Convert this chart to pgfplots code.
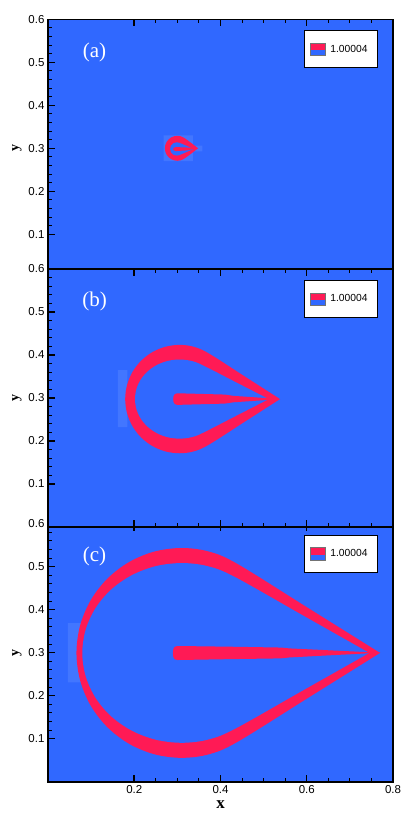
\documentclass[border=0pt]{standalone}
\usepackage{fontspec}
\setmainfont{Liberation Sans}
\newfontfamily\serif{Liberation Serif}
\usepackage{pgfplots}
\pgfplotsset{compat=1.18}
\definecolor{bgblue}{RGB}{48,104,255}
\definecolor{ringred}{RGB}{255,26,85}
\definecolor{ltblue}{RGB}{66,118,255}

\tikzset{plab/.style={font=\serif\fontsize{21bp}{24bp}\selectfont, text=white}}
\pgfplotsset{
 panel/.style={
  scale only axis, width=345bp, height=258bp,
  xmin=0, xmax=0.8, ymin=0, ymax=0.6,
  anchor=north west,
  axis background/.style={fill=bgblue},
  axis line style={line width=1.6bp, black},
  axis on top,
  tick align=inside,
  xtick={0.2,0.4,0.6,0.8}, ytick={0.1,0.2,0.3,0.4,0.5,0.6},
  minor x tick num=3, minor y tick num=4,
  major tick length=7bp, minor tick length=4bp,
  every major tick/.append style={line width=1.5bp, black},
  every minor tick/.append style={line width=0.9bp, black},
  xtick pos=both, ytick pos=left,
  tick label style={font=\fontsize{11.5bp}{13bp}\selectfont},
  /pgf/number format/assume math mode=true,
  ylabel={y},
  ylabel style={font=\serif\bfseries\fontsize{14bp}{16bp}\selectfont},
  xlabel style={font=\serif\bfseries\fontsize{17bp}{19bp}\selectfont},
  legend style={at={(axis description cs:0.9565,0.957)}, anchor=north east,
    draw=black, line width=0.9bp, fill=white, inner xsep=5bp, inner ysep=12bp,
    font=\fontsize{10.3bp}{12bp}\selectfont,
    nodes={inner xsep=5bp}},
  legend image code/.code={
    \path[fill=ringred, draw=none] (0bp,-1bp) rectangle (15bp,6.3bp);
    \path[fill=bgblue, draw=none] (0bp,-6.3bp) rectangle (15bp,-1bp);
    \path[draw=black!55, fill=none, line width=0.4bp] (0bp,-6.3bp) rectangle (15bp,6.3bp);
  },
 },
}

\begin{document}
\begin{tikzpicture}
\path[use as bounding box] (0,0) rectangle (415bp,-818bp);

% ---------------- panel (a)
\begin{axis}[panel, at={(48bp,-19.3bp)}, xticklabels={}]
\addplot[fill=ltblue, draw=none, forget plot] coordinates {(0.268,0.270) (0.336,0.270) (0.336,0.330) (0.268,0.330) (0.268,0.270)};
\addplot[fill=ltblue, draw=none, forget plot] coordinates {(0.335,0.293) (0.358,0.293) (0.358,0.306) (0.335,0.306) (0.335,0.293)};
\addplot[fill=ringred, draw=none, smooth, tension=0.55] coordinates {
(0.348,0.300) (0.3330,0.3116) (0.3175,0.3231) (0.3075,0.3280) (0.3000,0.3290) (0.2925,0.3280)
(0.2855,0.3251) (0.2795,0.3205) (0.2749,0.3145) (0.2720,0.3075) (0.2710,0.3000)
(0.2720,0.2925) (0.2749,0.2855) (0.2795,0.2795) (0.2855,0.2749) (0.2925,0.2720)
(0.3000,0.2710) (0.3075,0.2720) (0.3175,0.2769) (0.3330,0.2884) (0.348,0.300)};
\addlegendentry{1.00004}
\addplot[fill=bgblue, draw=none, smooth, tension=0.55, forget plot] coordinates {
(0.338,0.2985) (0.3213,0.3057) (0.3046,0.3128) (0.2985,0.3140) (0.2908,0.3119) (0.2851,0.3063)
(0.2830,0.2985) (0.2851,0.2908) (0.2908,0.2851) (0.2985,0.2830) (0.3046,0.2842)
(0.3213,0.2913) (0.338,0.2985)};
\addplot[fill=ringred, draw=none, forget plot] coordinates {
(0.348,0.300) (0.320,0.3020) (0.296,0.3028) (0.2915,0.3008) (0.2903,0.2982) (0.2915,0.2955)
(0.296,0.2935) (0.320,0.2950) (0.348,0.300)};
\node[plab] at (axis cs:0.108,0.524) {(a)};
\end{axis}

% ---------------- panel (c)
\begin{axis}[panel, at={(48bp,-523.7bp)}, xlabel={x}]
\addplot[fill=ltblue, draw=none, forget plot] coordinates {(0.046,0.231) (0.082,0.231) (0.082,0.369) (0.046,0.369) (0.046,0.231)};
\addplot[fill=ringred, draw=none, smooth, tension=0.55] coordinates {
(0.770,0.2995) (0.6047,0.4030) (0.4393,0.5064) (0.3732,0.5352) (0.3100,0.5435) (0.2468,0.5352)
(0.1880,0.5108) (0.1375,0.4720) (0.0987,0.4215) (0.0743,0.3627) (0.0660,0.2995)
(0.0743,0.2363) (0.0987,0.1775) (0.1375,0.1270) (0.1880,0.0882) (0.2468,0.0638)
(0.3100,0.0555) (0.3732,0.0638) (0.4393,0.0926) (0.6047,0.1960) (0.770,0.2995)};
\addlegendentry{1.00004}
\addplot[fill=bgblue, draw=none, smooth, tension=0.55, forget plot] coordinates {
(0.745,0.2995) (0.5886,0.3881) (0.4322,0.4767) (0.3697,0.5014) (0.3100,0.5085) (0.2503,0.5014)
(0.1948,0.4805) (0.1470,0.4473) (0.1104,0.4040) (0.0874,0.3536) (0.0795,0.2995)
(0.0874,0.2454) (0.1104,0.1950) (0.1470,0.1517) (0.1948,0.1185) (0.2503,0.0976)
(0.3100,0.0905) (0.3697,0.0976) (0.4322,0.1223) (0.5886,0.2109) (0.745,0.2995)};
\addplot[fill=ringred, draw=none, forget plot] coordinates {
(0.770,0.2999) (0.660,0.3052) (0.560,0.3100) (0.540,0.3120) (0.420,0.3140) (0.300,0.3156)
(0.2935,0.3135) (0.2905,0.3080) (0.2895,0.2993) (0.2905,0.2905) (0.2935,0.2850)
(0.300,0.2830) (0.420,0.2850) (0.540,0.2868) (0.560,0.2890) (0.660,0.2943) (0.770,0.2999)};
\node[plab] at (axis cs:0.108,0.524) {(c)};
\end{axis}

% ---------------- panel (b)
\begin{axis}[panel, at={(48bp,-269bp)}, xticklabels={}]
\addplot[fill=ltblue, draw=none, forget plot] coordinates {(0.162,0.232) (0.184,0.232) (0.184,0.365) (0.162,0.365) (0.162,0.232)};
\addplot[fill=ringred, draw=none, smooth, tension=0.55] coordinates {
(0.538,0.2975) (0.4556,0.3505) (0.3731,0.4035) (0.3376,0.4192) (0.3050,0.4235) (0.2724,0.4192)
(0.2420,0.4066) (0.2159,0.3866) (0.1959,0.3605) (0.1833,0.3301) (0.1790,0.2975)
(0.1833,0.2649) (0.1959,0.2345) (0.2159,0.2084) (0.2420,0.1884) (0.2724,0.1758)
(0.3050,0.1715) (0.3376,0.1758) (0.3731,0.1915) (0.4556,0.2445) (0.538,0.2975)};
\addlegendentry{1.00004}
\addplot[fill=bgblue, draw=none, smooth, tension=0.55, forget plot] coordinates {
(0.512,0.2975) (0.4343,0.3374) (0.3566,0.3772) (0.3317,0.3864) (0.3050,0.3895) (0.2783,0.3864)
(0.2534,0.3772) (0.2320,0.3626) (0.2155,0.3435) (0.2052,0.3213) (0.2017,0.2975)
(0.2052,0.2737) (0.2155,0.2515) (0.2320,0.2324) (0.2534,0.2178) (0.2783,0.2086)
(0.3050,0.2055) (0.3317,0.2086) (0.3566,0.2178) (0.4343,0.2576) (0.512,0.2975)};
\addplot[fill=ringred, draw=none, forget plot] coordinates {
(0.538,0.2975) (0.430,0.3050) (0.410,0.3080) (0.300,0.3110) (0.2940,0.3090) (0.2910,0.3040)
(0.2903,0.2975) (0.2910,0.2910) (0.2940,0.2860) (0.300,0.2840) (0.410,0.2870)
(0.430,0.2900) (0.538,0.2975)};
\node[plab] at (axis cs:0.108,0.524) {(b)};
\end{axis}
\end{tikzpicture}
\end{document}
